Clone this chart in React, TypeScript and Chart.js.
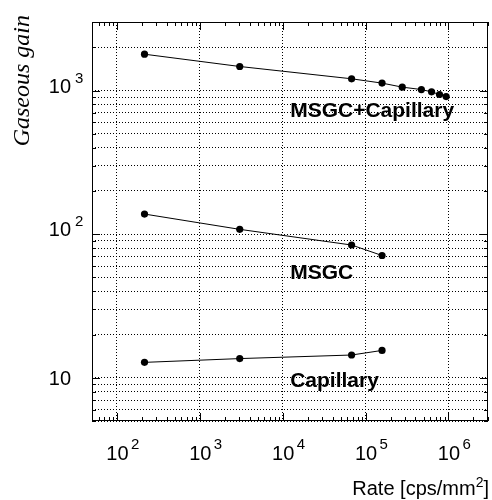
import React, { useEffect, useRef } from "react";
import { Chart, registerables } from "chart.js";

Chart.register(...registerables);

// ---- data ----
const rateMsgcCap = [215, 3030, 67800, 158000, 277000, 471000, 625000, 780000, 938000];
const gainMsgcCap = [1790, 1470, 1207, 1126, 1056, 1016, 979, 938, 908];
const rateMsgc = [215, 3030, 67800, 158000];
const gainMsgc = [138, 108, 84, 71];
const rateCap = [215, 3030, 67800, 158000];
const gainCap = [12.8, 13.6, 14.4, 15.5];

const seriesNames = ["MSGC+Capillary", "MSGC", "Capillary"];

const xLabelValues = [1e2, 1e3, 1e4, 1e5, 1e6];
const xLabelExponents = ["2", "3", "4", "5", "6"];
const yLabelValues = [10, 100, 1000];
const yLabelExponents = ["", "2", "3"];

const X_MIN = 50;
const X_MAX = 3e6;
const Y_MIN = 5;
const Y_MAX = 3000;

const xTitle = "Rate [cps/mm";
const xTitleSup = "2";
const xTitleEnd = "]";
const yTitle = "Gaseous gain";

function logTicks(min: number, max: number): number[] {
  const out: number[] = [];
  for (let e = -1; e <= 8; e++) {
    for (let m = 1; m <= 9; m++) {
      const v = m * Math.pow(10, e);
      if (v >= min * 0.9999 && v <= max * 1.0001) out.push(v);
    }
  }
  return out;
}
const isDecade = (v: number) => Math.abs(Math.log10(v) - Math.round(Math.log10(v))) < 1e-9;

const xAllTicks = logTicks(X_MIN, X_MAX);
const yAllTicks = logTicks(Y_MIN, Y_MAX);

const SANS = '"Liberation Sans", Arial, Helvetica, sans-serif';
const SERIF = '"Liberation Serif", "Times New Roman", serif';

const decorPlugin = {
  id: "decor",
  afterDraw(chart: any) {
    const ctx: CanvasRenderingContext2D = chart.ctx;
    const { left, right, top, bottom } = chart.chartArea;
    const xs = chart.scales.x;
    const ys = chart.scales.y;
    ctx.save();
    ctx.strokeStyle = "#000";
    ctx.fillStyle = "#000";
    ctx.lineWidth = 1;
    ctx.setLineDash([]);

    // frame
    ctx.strokeRect(Math.round(left) + 0.5, Math.round(top) + 0.5, Math.round(right - left) - 1, Math.round(bottom - top) - 1);

    // inward tick marks
    ctx.beginPath();
    xAllTicks.forEach((v) => {
      const px = Math.round(xs.getPixelForValue(v)) + 0.5;
      const len = isDecade(v) ? 8 : 4;
      ctx.moveTo(px, bottom);
      ctx.lineTo(px, bottom - len);
      ctx.moveTo(px, top);
      ctx.lineTo(px, top + len);
    });
    yAllTicks.forEach((v) => {
      const py = Math.round(ys.getPixelForValue(v)) + 0.5;
      const len = isDecade(v) ? 8 : 4;
      ctx.moveTo(left, py);
      ctx.lineTo(left + len, py);
      ctx.moveTo(right, py);
      ctx.lineTo(right - len, py);
    });
    ctx.stroke();

    // x tick labels
    xLabelValues.forEach((v, i) => {
      const px = xs.getPixelForValue(v);
      ctx.font = `20px ${SANS}`;
      ctx.textAlign = "center";
      ctx.textBaseline = "alphabetic";
      ctx.fillText("10", px + 0.5, 460);
      ctx.font = `15px ${SANS}`;
      ctx.textAlign = "left";
      ctx.fillText(xLabelExponents[i], px + 14, 449);
    });

    // y tick labels
    yLabelValues.forEach((v, i) => {
      const py = ys.getPixelForValue(v);
      ctx.font = `20px ${SANS}`;
      ctx.textAlign = "right";
      ctx.textBaseline = "alphabetic";
      if (yLabelExponents[i]) {
        ctx.fillText("10", 71, py + 2);
        ctx.font = `15px ${SANS}`;
        ctx.textAlign = "left";
        ctx.fillText(yLabelExponents[i], 75, py - 8);
      } else {
        ctx.fillText("10", 71, py + 7);
      }
    });

    // y title
    ctx.save();
    ctx.font = `italic 24px ${SERIF}`;
    ctx.translate(28.5, 15);
    ctx.rotate(-Math.PI / 2);
    ctx.textAlign = "right";
    ctx.textBaseline = "alphabetic";
    ctx.fillText(yTitle, 0, 0);
    ctx.restore();

    // x title with superscript
    ctx.textAlign = "left";
    ctx.textBaseline = "alphabetic";
    ctx.font = `20px ${SANS}`;
    const wMain = ctx.measureText(xTitle).width;
    const wEnd = ctx.measureText(xTitleEnd).width;
    ctx.font = `14px ${SANS}`;
    const wSup = ctx.measureText(xTitleSup).width;
    const xRight = 489;
    const base = 495;
    let x0 = xRight - wEnd - wSup - wMain;
    ctx.font = `20px ${SANS}`;
    ctx.fillText(xTitle, x0, base);
    ctx.font = `14px ${SANS}`;
    ctx.fillText(xTitleSup, x0 + wMain, base - 8);
    ctx.font = `20px ${SANS}`;
    ctx.fillText(xTitleEnd, x0 + wMain + wSup, base);

    // series annotations
    ctx.font = `bold 21px ${SANS}`;
    ctx.textAlign = "left";
    const annX = xs.getPixelForValue(12300);
    ctx.fillText(seriesNames[0], annX, ys.getPixelForValue(655));
    ctx.fillText(seriesNames[1], annX, ys.getPixelForValue(48.5));
    ctx.fillText(seriesNames[2], annX, ys.getPixelForValue(8.6));

    ctx.restore();
  },
};

function toPoints(xs: number[], ys: number[]) {
  return xs.map((x, i) => ({ x, y: ys[i] }));
}

export default function App() {
  const ref = useRef<HTMLCanvasElement | null>(null);
  useEffect(() => {
    if (!ref.current) return;
    const ds = (label: string, data: any[]) => ({
      label,
      data,
      showLine: true,
      borderColor: "#000",
      borderWidth: 1,
      backgroundColor: "#000",
      pointBackgroundColor: "#000",
      pointBorderWidth: 0,
      pointRadius: 3.6,
    });
    const chart = new Chart(ref.current, {
      type: "scatter",
      data: {
        datasets: [
          ds(seriesNames[0], toPoints(rateMsgcCap, gainMsgcCap)),
          ds(seriesNames[1], toPoints(rateMsgc, gainMsgc)),
          ds(seriesNames[2], toPoints(rateCap, gainCap)),
        ],
      },
      options: {
        animation: false,
        responsive: false,
        devicePixelRatio: 1,
        layout: { padding: { left: 92, right: 1, top: 22, bottom: 79 } },
        plugins: { legend: { display: false }, tooltip: { enabled: false } },
        scales: {
          x: {
            type: "logarithmic",
            min: X_MIN,
            max: X_MAX,
            afterBuildTicks: (scale: any) => {
              scale.ticks = xAllTicks.map((v) => ({ value: v }));
            },
            ticks: { display: false },
            grid: {
              drawTicks: false,
              lineWidth: 1,
              color: (c: any) => (c.tick && isDecade(c.tick.value) ? "#000" : "rgba(0,0,0,0)"),
            },
            border: { display: false, dash: [1, 2] },
          },
          y: {
            type: "logarithmic",
            min: Y_MIN,
            max: Y_MAX,
            afterBuildTicks: (scale: any) => {
              scale.ticks = yAllTicks.map((v) => ({ value: v }));
            },
            ticks: { display: false },
            grid: { drawTicks: false, lineWidth: 1, color: "#000" },
            border: { display: false, dash: [1, 2] },
          },
        },
      } as any,
      plugins: [decorPlugin],
    });
    return () => chart.destroy();
  }, []);
  return (
    <div style={{ position: "absolute", left: 0, top: 0, width: 492, height: 500, background: "#fff" }}>
      <canvas ref={ref} width={492} height={500} style={{ display: "block", width: 492, height: 500 }} />
    </div>
  );
}
